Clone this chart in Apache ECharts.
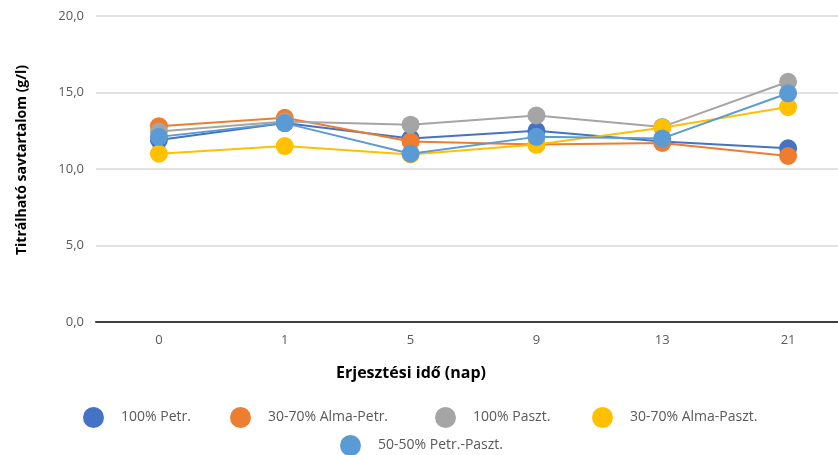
<!DOCTYPE html>
<html>
<head>
<meta charset="utf-8">
<script src="https://cdn.jsdelivr.net/npm/echarts@6/dist/echarts.min.js"></script>
<style>html,body{margin:0;padding:0;background:#fff}#c{width:838px;height:455px}</style>
</head>
<body>
<div id="c"></div>
<script>
const categories = ['0', '1', '5', '9', '13', '21'];
const seriesNames = ['100% Petr.', '30-70% Alma-Petr.', '100% Paszt.', '30-70% Alma-Paszt.', '50-50% Petr.-Paszt.'];
const petr100 = [11.9, 13.0, 12.0, 12.5, 11.8, 11.35];
const almaPetr = [12.8, 13.35, 11.8, 11.6, 11.7, 10.85];
const paszt100 = [12.45, 13.1, 12.9, 13.5, 12.75, 15.7];
const almaPaszt = [11.0, 11.5, 10.95, 11.6, 12.7, 14.05];
const petrPaszt = [12.1, 13.0, 11.0, 12.1, 12.0, 14.95];
const yTicks = [0, 5, 10, 15, 20];
const xTitle = 'Erjesztési idő (nap)';
const yTitle = 'Titrálható savtartalom (g/l)';

const colors = ['#4472C4', '#ED7D31', '#A5A5A5', '#FFC000', '#5B9BD5'];
const values = [petr100, almaPetr, paszt100, almaPaszt, petrPaszt];
const font = '"Open Sans", "Noto Sans", sans-serif';

const legendPos = [
  {left: 83, top: 407},
  {left: 230, top: 407},
  {left: 435, top: 407},
  {left: 592, top: 407},
  {left: 340, top: 435}
];

const chart = echarts.init(document.getElementById('c'));
chart.setOption({
  animation: false,
  color: colors,
  grid: {left: 96, width: 755, top: 16, height: 306, containLabel: false, outerBoundsMode: 'none'},
  title: {
    text: xTitle,
    left: 411,
    top: 365,
    textAlign: 'center',
    padding: 0,
    textStyle: {fontFamily: font, fontSize: 16, fontWeight: 'bold', color: '#000'}
  },
  legend: seriesNames.map((n, i) => ({
    data: [n],
    left: legendPos[i].left,
    top: legendPos[i].top,
    icon: 'circle',
    itemWidth: 23,
    itemHeight: 21,
    padding: 0,
    textStyle: {fontFamily: font, fontSize: 14, color: '#595959', padding: [0, 0, 0, 11]}
  })),
  xAxis: {
    type: 'category',
    data: categories,
    boundaryGap: true,
    axisTick: {show: false},
    axisLine: {lineStyle: {color: '#404040', width: 2}},
    axisLabel: {fontFamily: font, fontSize: 13, color: '#595959', margin: 12}
  },
  yAxis: {
    type: 'value',
    min: yTicks[0],
    max: yTicks[yTicks.length - 1],
    interval: 5,
    axisLine: {show: false},
    axisTick: {show: false},
    splitLine: {lineStyle: {color: '#D9D9D9', width: 1.5}},
    axisLabel: {fontFamily: font, fontSize: 13, color: '#595959', margin: 12,
      formatter: v => v.toFixed(1).replace('.', ',')},
    name: yTitle,
    nameLocation: 'middle',
    nameGap: 67,
    nameTextStyle: {fontFamily: font, fontSize: 14, fontWeight: 'bold', color: '#000', padding: [0, 0, 0, 18]}
  },
  series: seriesNames.map((n, i) => ({
    name: n,
    type: 'line',
    data: values[i],
    symbol: 'circle',
    symbolSize: 18,
    lineStyle: {width: 2},
    itemStyle: {color: colors[i]},
    z: 2 + i
  }))
});
</script>
</body>
</html>
